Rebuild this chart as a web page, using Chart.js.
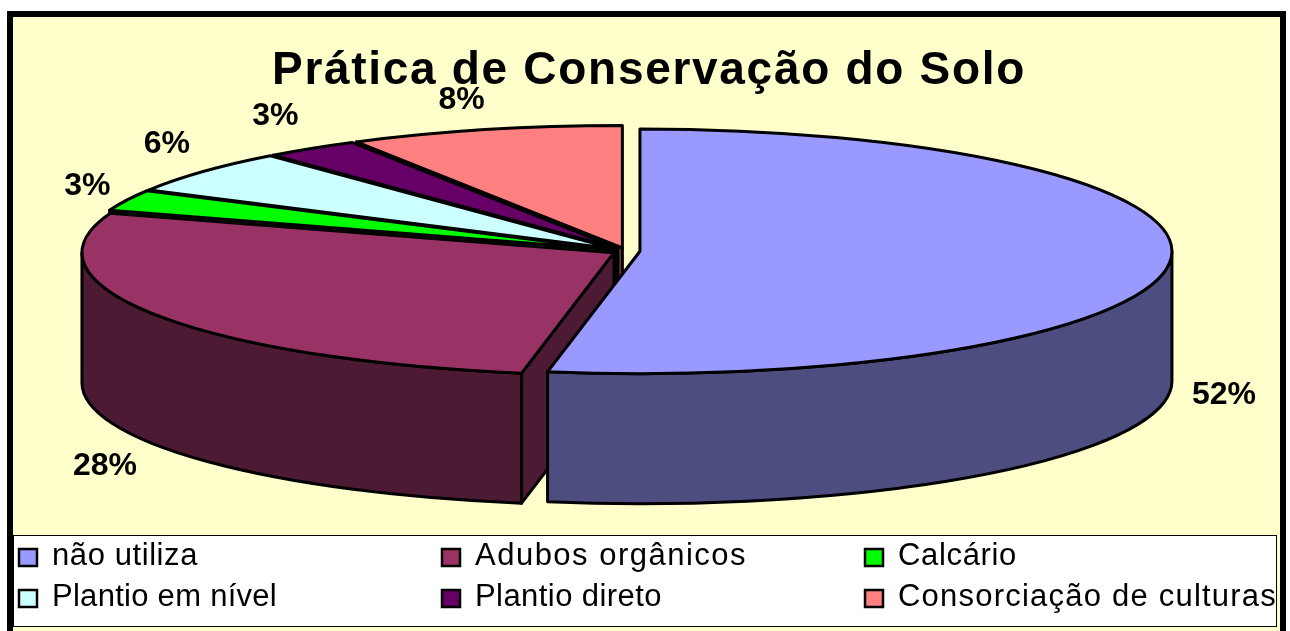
<!DOCTYPE html>
<html>
<head>
<meta charset="utf-8">
<title>Prática de Conservação do Solo</title>
<script src="https://cdn.jsdelivr.net/npm/chart.js@4"></script>
<style>
  html, body { margin: 0; padding: 0; background: #fff; overflow: hidden; }
  #wrap { width: 1290px; height: 631px; }
</style>
</head>
<body>
<div id="wrap"><canvas id="chart" width="1290" height="631"></canvas></div>
<script>
const chartTitle = 'Prática de Conservação do Solo';
const categories = ['não utiliza', 'Adubos orgânicos', 'Calcário', 'Plantio em nível', 'Plantio direto', 'Consorciação de culturas'];
const shares = [52, 28, 3, 6, 3, 8];
const topColors = ['#9999FF', '#993366', '#00FF00', '#CCFFFF', '#660066', '#FF8080'];
const sideColors = ['#4D4D80', '#4D1A33', '#008000', '#668080', '#330033', '#804040'];
// where each % label sits, relative to the rim of its slice
const labelNudges = [[54, 133], [-51, 151], [-39, -14], [-36, -27], [-36, -32], [-23, -30]];
// the original's 3D view skews slice edges a little, degrees per slice end
const edgeSkew = [2.8, 0.8, 0, -0.8, -1.2, 0];
// legend text is stretched in the original, target widths in px
const legendWidths = [146, 272, 119, 225, 187, 379];

// fake 3D: the pie is laid out round, then squashed and given a wall
const PIE_X = 626, PIE_Y = 251, SQUASH = 0.23, DEPTH = 130, EXPLODE = 14;

const areaCenter = chart => ({
  x: (chart.chartArea.left + chart.chartArea.right) / 2,
  y: (chart.chartArea.top + chart.chartArea.bottom) / 2
});

const sliceGeom = (chart, arc) => {
  const c = areaCenter(chart);
  const r = arc.outerRadius;
  return {
    start: arc.startAngle, end: arc.endAngle,
    mid: (arc.startAngle + arc.endAngle) / 2,
    r, ry: r * SQUASH,
    cx: PIE_X + arc.x - c.x,
    cy: PIE_Y + (arc.y - c.y) * SQUASH
  };
};

const pie3d = {
  id: 'pie3d',
  afterDatasetsUpdate(chart) {
    const deg = Math.PI / 180;
    chart.getDatasetMeta(0).data.forEach((arc, i) => {
      arc.startAngle += (i ? edgeSkew[i - 1] : 0) * deg;
      arc.endAngle += edgeSkew[i] * deg;
      arc.circumference = arc.endAngle - arc.startAngle;
      const mid = (arc.startAngle + arc.endAngle) / 2;
      arc.x += Math.cos(mid) * EXPLODE;
      arc.y += Math.sin(mid) * EXPLODE;
    });
  },
  beforeDraw(chart) {
    const { ctx } = chart;
    ctx.fillStyle = '#000';
    ctx.fillRect(7, 11, 1279, 620);
    ctx.fillStyle = '#FFFFCC';
    ctx.fillRect(13, 17, 1267, 614);
    ctx.letterSpacing = '1.7px'; // for the title, it draws next
  },
  beforeDatasetsDraw(chart) {
    const { ctx } = chart;
    ctx.letterSpacing = '0px';
    const arcs = chart.getDatasetMeta(0).data;
    ctx.save();
    ctx.strokeStyle = '#000';
    ctx.lineWidth = 3;
    ctx.lineJoin = 'round';
    // back slices first, the big one last
    for (let i = arcs.length - 1; i >= 0; i--) {
      const g = sliceGeom(chart, arcs[i]);
      ctx.fillStyle = sideColors[i];
      [[g.start, Math.cos(g.start) < 0], [g.end, Math.cos(g.end) > 0]].forEach(([a, visible]) => {
        if (!visible) return;
        const ex = g.cx + Math.cos(a) * g.r, ey = g.cy + Math.sin(a) * g.ry;
        ctx.beginPath();
        ctx.moveTo(g.cx, g.cy);
        ctx.lineTo(ex, ey);
        ctx.lineTo(ex, ey + DEPTH);
        ctx.lineTo(g.cx, g.cy + DEPTH);
        ctx.closePath();
        ctx.fill();
        ctx.stroke();
      });
      const a = Math.max(g.start, 0), b = Math.min(g.end, Math.PI);
      if (b > a) {
        ctx.beginPath();
        ctx.ellipse(g.cx, g.cy, g.r, g.ry, 0, a, b);
        ctx.ellipse(g.cx, g.cy + DEPTH, g.r, g.ry, 0, b, a, true);
        ctx.closePath();
        ctx.fill();
        ctx.stroke();
      }
    }
    ctx.restore();
    const c = areaCenter(chart);
    ctx.save();
    ctx.translate(PIE_X, PIE_Y);
    ctx.scale(1, SQUASH);
    ctx.translate(-c.x, -c.y);
  },
  afterDatasetsDraw(chart) {
    const { ctx } = chart;
    ctx.restore();
    ctx.save();
    ctx.strokeStyle = '#000';
    ctx.lineWidth = 3;
    ctx.lineJoin = 'round';
    chart.getDatasetMeta(0).data.forEach(arc => {
      const g = sliceGeom(chart, arc);
      ctx.beginPath();
      ctx.moveTo(g.cx, g.cy);
      ctx.ellipse(g.cx, g.cy, g.r, g.ry, 0, g.start, g.end);
      ctx.closePath();
      ctx.stroke();
    });
    ctx.restore();
  },
  afterDraw(chart) {
    const { ctx } = chart;
    ctx.save();
    // % labels
    ctx.fillStyle = '#000';
    ctx.font = 'bold 32px "Liberation Sans", Arial, sans-serif';
    ctx.textAlign = 'center';
    ctx.textBaseline = 'middle';
    chart.getDatasetMeta(0).data.forEach((arc, i) => {
      const g = sliceGeom(chart, arc);
      const x = g.cx + Math.cos(g.mid) * g.r + labelNudges[i][0];
      const y = g.cy + Math.sin(g.mid) * g.ry + labelNudges[i][1];
      ctx.fillText(shares[i] + '%', x, y);
    });
    // legend box, 3 even columns
    ctx.fillStyle = '#fff';
    ctx.strokeStyle = '#000';
    ctx.lineWidth = 1;
    ctx.fillRect(13, 535, 1264, 91);
    ctx.strokeRect(13.5, 535.5, 1263, 91);
    ctx.font = '31px "Liberation Sans", Arial, sans-serif';
    ctx.textAlign = 'left';
    ctx.textBaseline = 'alphabetic';
    categories.forEach((name, i) => {
      const col = i % 3, row = Math.floor(i / 3);
      const x = 19 + col * 423, y = 549 + row * 41;
      ctx.fillStyle = topColors[i];
      ctx.lineWidth = 2.5;
      ctx.fillRect(x, y, 18, 17);
      ctx.strokeRect(x, y, 18, 17);
      ctx.fillStyle = '#000';
      ctx.letterSpacing = '0px';
      const w = ctx.measureText(name).width;
      ctx.letterSpacing = ((legendWidths[i] - w) / name.length) + 'px';
      ctx.fillText(name, x + 33, y + 16);
    });
    ctx.restore();
  }
};

new Chart(document.getElementById('chart'), {
  type: 'pie',
  data: {
    labels: categories,
    datasets: [{
      data: shares,
      backgroundColor: topColors,
      borderWidth: 0,
      radius: 532,
      clip: false
    }]
  },
  options: {
    responsive: false,
    animation: false,
    layout: { padding: { left: 8 } },
    plugins: {
      legend: { display: false },
      tooltip: { enabled: false },
      title: {
        display: true,
        text: chartTitle,
        color: '#000',
        font: { family: '"Liberation Sans", Arial, sans-serif', size: 46, weight: 'bold' },
        padding: { top: 44, bottom: 10 }
      }
    }
  },
  plugins: [pie3d]
});
</script>
</body>
</html>
